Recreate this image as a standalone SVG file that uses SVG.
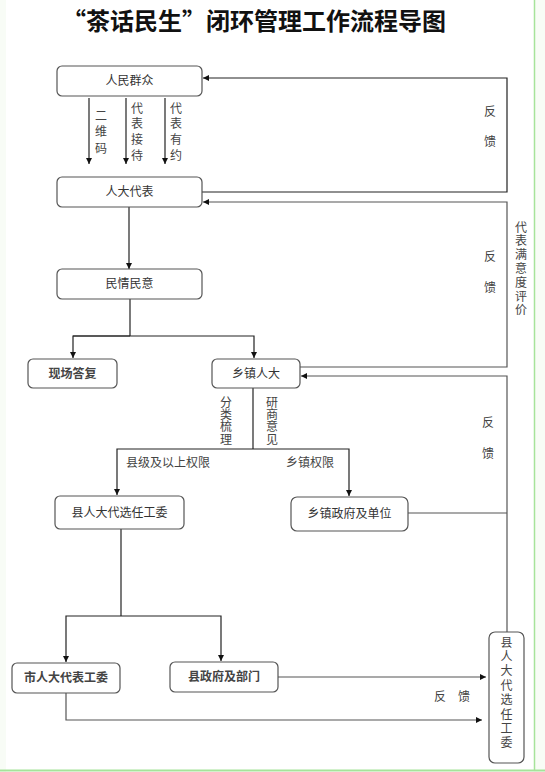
<svg xmlns="http://www.w3.org/2000/svg" width="545" height="772" viewBox="0 0 545 772">
<defs>
<marker id="ah" viewBox="0 0 10 10" refX="10" refY="5" markerWidth="6" markerHeight="6" orient="auto" markerUnits="userSpaceOnUse">
<path d="M0,0 L10,5 L0,10 z" fill="#111"/>
</marker>
<style>
.box{fill:#fff;stroke:#555;stroke-width:1.2}
.t{font-family:"Noto Sans CJK SC","Noto Sans",sans-serif;font-size:12px;fill:#333;text-anchor:middle}
.b{font-weight:bold;fill:#444}
.l{font-family:"Noto Sans CJK SC","Noto Sans",sans-serif;font-size:12px;fill:#444;text-anchor:middle}
.v{font-family:"Noto Sans CJK SC","Noto Sans",sans-serif;font-size:12px;fill:#444;writing-mode:vertical-rl;text-orientation:upright}
.c{fill:none;stroke:#222;stroke-width:1.2}
.g{fill:none;stroke:#555;stroke-width:1.2}
.a{marker-end:url(#ah)}
</style>
</defs>
<rect x="0" y="0" width="545" height="772" fill="#fff"/>
<rect x="0" y="0" width="6" height="772" fill="#f8fcf6"/>
<rect x="534" y="0" width="11" height="772" fill="#f8fcf6"/>
<line x1="534.5" y1="0" x2="534.5" y2="770" stroke="#a6e39a" stroke-width="1.5"/>
<line x1="0" y1="770.5" x2="545" y2="770.5" stroke="#a6e39a" stroke-width="2"/>

<text x="62" y="30" font-family="Noto Sans CJK SC,sans-serif" font-size="24" font-weight="bold" fill="#111">“茶话民生”闭环管理工作流程导图</text>

<g id="connectors">
<polyline class="c a" points="202,192 507,192 507,78 203,78"/>
<line class="c a" x1="89" y1="98" x2="89" y2="164"/>
<line class="c a" x1="126" y1="98" x2="126" y2="164"/>
<line class="c a" x1="165" y1="98" x2="165" y2="164"/>
<line class="c a" x1="129" y1="207" x2="129" y2="269"/>
<polyline class="c" points="130,299 130,336"/>
<polyline class="c a" points="73,336 254,336 254,358"/>
<polyline class="c a" points="130,336 73,336 73,358"/>
<polyline class="g a" points="300,367 507,367 507,202 203,202"/>
<polyline class="g a" points="507,632 507,376 301,376"/>
<line class="g" x1="408" y1="513" x2="507" y2="513"/>
<line class="c" x1="253" y1="388" x2="253" y2="449"/>
<polyline class="c a" points="253,449 117,449 117,495"/>
<polyline class="c a" points="253,449 349,449 349,496"/>
<line class="c" x1="121" y1="529" x2="121" y2="616"/>
<polyline class="c a" points="121,616 66,616 66,662"/>
<polyline class="c a" points="121,616 221,616 221,661"/>
<line class="g a" x1="278" y1="677" x2="486" y2="677"/>
<polyline class="g a" points="66,693 66,720 482,720"/>
</g>

<g id="labels">
<text class="v" x="101" y="109" letter-spacing="4.5">二维码</text>
<text class="v" x="137" y="102" letter-spacing="3.7">代表接待</text>
<text class="v" x="176" y="102" letter-spacing="3.7">代表有约</text>
<text class="l" x="490" y="116">反</text>
<text class="l" x="490" y="146">馈</text>
<text class="l" x="490" y="261">反</text>
<text class="l" x="490" y="292">馈</text>
<text class="v" x="521" y="221" letter-spacing="1.8">代表满意度评价</text>
<text class="v" x="226" y="396" font-size="11" letter-spacing="0.4">分类梳理</text>
<text class="v" x="272" y="396" font-size="11" letter-spacing="0.4">研商意见</text>
<text class="l" x="168" y="467">县级及以上权限</text>
<text class="l" x="310" y="467">乡镇权限</text>
<text class="l" x="488" y="427">反</text>
<text class="l" x="488" y="458">馈</text>
<text class="l" x="440" y="701">反</text>
<text class="l" x="464" y="701">馈</text>
</g>

<g id="n1"><rect class="box" x="57" y="66" width="145" height="30" rx="5"/><text class="t" x="129.5" y="85">人民群众</text></g>
<g id="n2"><rect class="box" x="57" y="177" width="145" height="30" rx="5"/><text class="t" x="129.5" y="196">人大代表</text></g>
<g id="n3"><rect class="box" x="57" y="269" width="145" height="30" rx="5"/><text class="t" x="129.5" y="288">民情民意</text></g>
<g id="n4"><rect class="box" x="28" y="359" width="89" height="29" rx="5"/><text class="t b" x="72.5" y="378">现场答复</text></g>
<g id="n5"><rect class="box" x="212" y="359" width="88" height="29" rx="5"/><text class="t" x="256" y="378">乡镇人大</text></g>
<g id="n6"><rect class="box" x="55" y="496" width="129" height="33" rx="5"/><text class="t" x="119.5" y="517">县人大代选任工委</text></g>
<g id="n7"><rect class="box" x="291" y="497" width="117" height="34" rx="6"/><text class="t" x="349.5" y="518">乡镇政府及单位</text></g>
<g id="n8"><rect class="box" x="12" y="663" width="108" height="30" rx="5"/><text class="t b" x="66" y="682">市人大代表工委</text></g>
<g id="n9"><rect class="box" x="170" y="662" width="108" height="30" rx="5"/><text class="t b" x="224" y="681">县政府及部门</text></g>
<g id="n10"><rect class="box" x="489" y="632" width="35" height="131" rx="6"/><text class="v" x="506.5" y="636" letter-spacing="2.4">县人大代选任工委</text></g>
</svg>
